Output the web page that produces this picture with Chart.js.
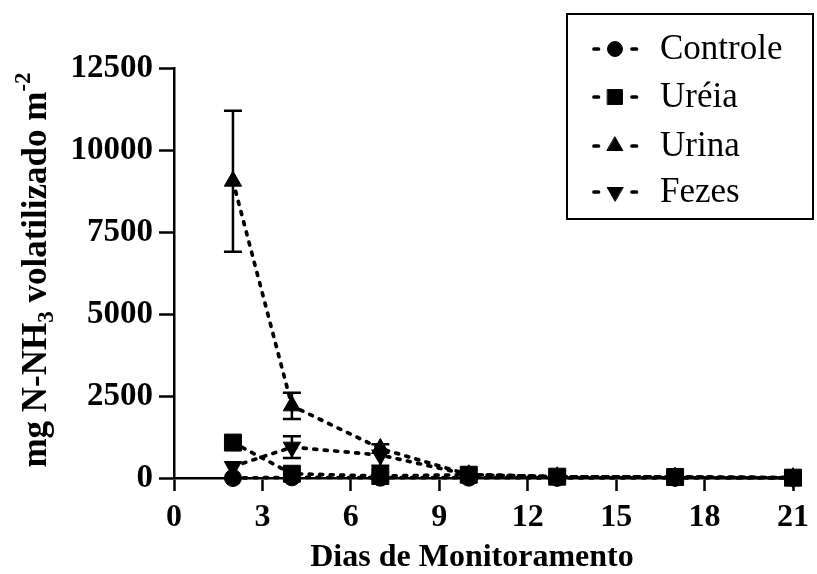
<!DOCTYPE html>
<html>
<head>
<meta charset="utf-8">
<script src="https://cdn.jsdelivr.net/npm/chart.js@4.4.1/dist/chart.umd.min.js"></script>
<style>
html,body{margin:0;padding:0;background:#fff;}
#wrap{width:817px;height:574px;position:relative;}
</style>
</head>
<body>
<div id="wrap"><canvas id="c" width="817" height="574"></canvas></div>
<script>
const days = [2, 4, 7, 10, 13, 17, 21];
const xTicks = [0, 3, 6, 9, 12, 15, 18, 21];
const yTicks = [0, 2500, 5000, 7500, 10000, 12500];
const seriesNames = ['Controle', 'Uréia', 'Urina', 'Fezes'];
const controle = [0, 20, 10, 10, 5, 5, 5];
const ureia = [1080, 130, 60, 100, 40, 30, 10];
const urina = [9050, 2200, 900, 100, 40, 30, 10];
const fezes = [350, 940, 700, 100, 40, 30, 10];
const controleErr = [0, 0, 0, 0, 0, 0, 0];
const ureiaErr = [0, 0, 0, 0, 0, 0, 0];
const urinaErr = [2150, 400, 0, 0, 0, 0, 0];
const fezesErr = [0, 330, 330, 0, 0, 0, 0];
const xTitle = 'Dias de Monitoramento';

const SERIF = '"Liberation Serif", "Times New Roman", serif';

function mk(label, vals, errs, style, radius, rot) {
  return {
    label: label,
    data: days.map((d, i) => ({x: d, y: vals[i]})),
    errors: errs,
    borderColor: '#000',
    backgroundColor: '#000',
    borderWidth: 3.7,
    borderDash: [3, 7.5],
    borderCapStyle: 'round',
    pointStyle: style,
    pointRadius: radius,
    pointHoverRadius: radius,
    pointRotation: rot,
    pointBackgroundColor: '#000',
    pointBorderColor: '#000',
    pointBorderWidth: 1,
    tension: 0,
    clip: false
  };
}

const datasets = [
  mk(seriesNames[0], controle, controleErr, 'circle', 8.5, 0),
  mk(seriesNames[1], ureia, ureiaErr, 'rect', 12, 0),
  mk(seriesNames[2], urina, urinaErr, 'triangle', 10, 0),
  mk(seriesNames[3], fezes, fezesErr, 'triangle', 10, 180)
];

const errorBars = {
  id: 'errorBars',
  afterDatasetsDraw(chart) {
    const ctx = chart.ctx;
    const xs = chart.scales.x, ys = chart.scales.y;
    ctx.save();
    ctx.strokeStyle = '#000';
    ctx.lineWidth = 2.5;
    chart.data.datasets.forEach(ds => {
      ds.data.forEach((p, i) => {
        const e = ds.errors[i];
        if (!e) return;
        const px = xs.getPixelForValue(p.x);
        const top = ys.getPixelForValue(p.y + e);
        const bot = ys.getPixelForValue(Math.max(0, p.y - e));
        ctx.beginPath();
        ctx.moveTo(px, top); ctx.lineTo(px, bot);
        ctx.moveTo(px - 9, top); ctx.lineTo(px + 9, top);
        ctx.moveTo(px - 9, bot); ctx.lineTo(px + 9, bot);
        ctx.stroke();
      });
    });
    ctx.restore();
  }
};

const titles = {
  id: 'titles',
  afterDraw(chart) {
    const ctx = chart.ctx;
    ctx.save();
    ctx.fillStyle = '#000';
    ctx.font = 'bold 32px ' + SERIF;
    ctx.textAlign = 'center';
    ctx.textBaseline = 'alphabetic';
    ctx.fillText(xTitle, 472, 566);
    ctx.translate(46, 270);
    ctx.rotate(-Math.PI / 2);
    const big = 'bold 35px ' + SERIF;
    const small = 'bold 23px ' + SERIF;
    const parts = [
      {t: 'mg N-NH', f: big, dy: 0},
      {t: '3', f: small, dy: 7},
      {t: ' volatilizado m', f: big, dy: 0},
      {t: '-2', f: small, dy: -16}
    ];
    let total = 0;
    parts.forEach(p => { ctx.font = p.f; p.w = ctx.measureText(p.t).width; total += p.w; });
    let x = -total / 2;
    ctx.textAlign = 'left';
    parts.forEach(p => { ctx.font = p.f; ctx.fillText(p.t, x, p.dy); x += p.w; });
    ctx.restore();
  }
};

const legendBox = {
  id: 'legendBox',
  afterDraw(chart) {
    const ctx = chart.ctx;
    ctx.save();
    ctx.fillStyle = '#fff';
    ctx.fillRect(567, 14, 246, 205);
    ctx.strokeStyle = '#000';
    ctx.lineWidth = 2;
    ctx.strokeRect(567, 14, 246, 205);
    const ys = [49, 97, 146, 192];
    chart.data.datasets.forEach((ds, i) => {
      const y = ys[i];
      ctx.strokeStyle = '#000';
      ctx.lineWidth = 3.7;
      ctx.lineCap = 'round';
      ctx.beginPath();
      ctx.moveTo(594, y); ctx.lineTo(598.5, y);
      ctx.moveTo(632, y); ctx.lineTo(636.5, y);
      ctx.stroke();
      ctx.fillStyle = '#000';
      ctx.lineWidth = 1;
      const r = ds.pointStyle === 'rect' ? 10.5 : (ds.pointStyle === 'circle' ? 7.5 : 9);
      Chart.helpers.drawPoint(ctx, {pointStyle: ds.pointStyle, rotation: ds.pointRotation, radius: r, borderWidth: 1}, 615, y);
      ctx.fillStyle = '#000';
      ctx.font = '35px ' + SERIF;
      ctx.textAlign = 'left';
      ctx.textBaseline = 'middle';
      ctx.fillText(ds.label, 660, y + 1);
    });
    ctx.restore();
  }
};

new Chart(document.getElementById('c'), {
  type: 'line',
  data: {datasets: datasets},
  options: {
    responsive: false,
    animation: false,
    devicePixelRatio: 1,
    layout: {padding: {top: 68, right: 18, left: 0, bottom: 0}},
    plugins: {legend: {display: false}, tooltip: {enabled: false}},
    scales: {
      x: {
        type: 'linear', min: 0, max: 21,
        afterBuildTicks: s => { s.ticks = xTicks.map(v => ({value: v})); },
        afterFit: s => { s.height = 96; },
        ticks: {color: '#000', font: {family: SERIF, size: 32, weight: 'bold'}, padding: 8, maxRotation: 0, autoSkip: false, callback: v => String(v)},
        grid: {drawOnChartArea: false, tickLength: 13, tickWidth: 2.5, tickColor: '#000'},
        border: {color: '#000', width: 2.5}
      },
      y: {
        type: 'linear', min: 0, max: 12500,
        afterBuildTicks: s => { s.ticks = yTicks.map(v => ({value: v})); },
        afterFit: s => { s.width = 174; },
        ticks: {color: '#000', font: {family: SERIF, size: 33, weight: 'bold'}, padding: 6, callback: v => String(v)},
        grid: {drawOnChartArea: false, tickLength: 15, tickWidth: 2.5, tickColor: '#000'},
        border: {color: '#000', width: 2.5}
      }
    }
  },
  plugins: [errorBars, titles, legendBox]
});
</script>
</body>
</html>
